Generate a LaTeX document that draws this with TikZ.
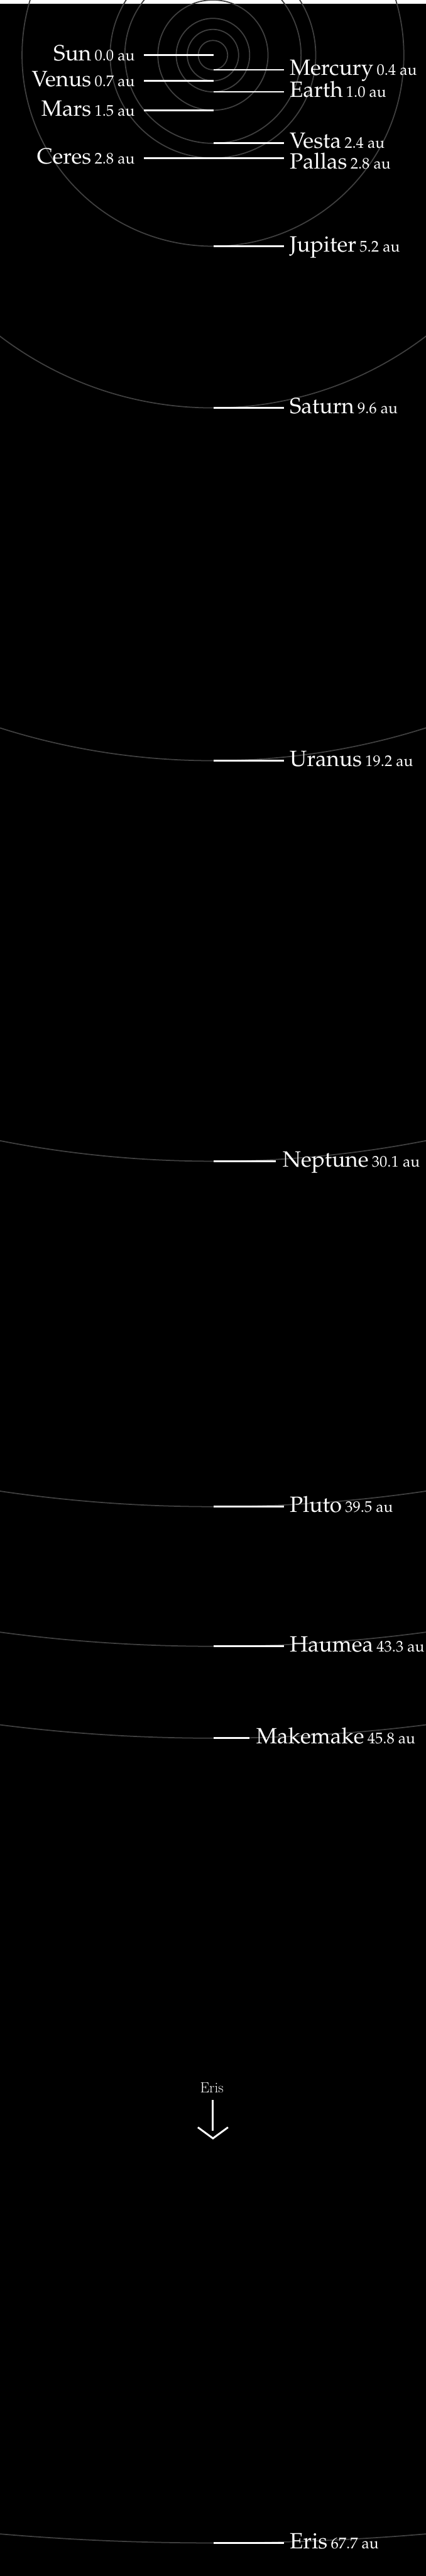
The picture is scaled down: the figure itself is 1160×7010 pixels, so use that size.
\documentclass[tikz,border=0pt]{standalone}
\usepackage[T1,TU]{fontenc}
\newcommand\palname{\fontencoding{T1}\fontfamily{ppl}\fontsize{60}{60}\selectfont}
\newcommand\palnum{\fontencoding{T1}\fontfamily{ppl}\fontsize{42}{42}\selectfont}
\definecolor{orbitgray}{HTML}{404040}
\tikzset{
  orbit/.style={draw=orbitgray, line width=3pt},
  tick/.style={draw=white, line width=4.8pt},
  lab/.style={text=white, inner sep=0pt, outer sep=0pt},
  arrowline/.style={draw=white, line width=5pt},
}
\begin{document}
\begin{tikzpicture}[x=1pt,y=-1pt]
\useasboundingbox (0,0) rectangle (1160,7010);
\fill[white] (0,0) rectangle (1160,10);
\fill[black] (0,10) rectangle (1160,7010);
\coordinate (sun) at (580,150);
\begin{scope}
  \clip (0,0) rectangle (1160,7010);
  \foreach \r in {40,70,100,150,240,280,520,960,1920,3010,3950,4330,4580,6770}
    \draw[orbit] (sun) circle[radius=\r pt];
\end{scope}
% left-hand labels
\foreach \id/\name/\num/\y in {sunb/Sun/0.0/150, venus/Venus/0.7/220, mars/Mars/1.5/300, ceres/Ceres/2.8/430}{
  \coordinate (\id-p) at (582,\y);
  \coordinate (\id-e) at (392,\y);
  \node[lab, anchor=base east] (\id-l) at (367,\y+15) {\palname \name\hspace{9pt}\palnum \num\ au};
  \draw[tick] (\id-p) -- (\id-e);
}
% right-hand labels
\foreach \id/\name/\num/\y/\xe/\xt/\yb in {
  mercury/Mercury/0.4/190/773/789/204,
  earth/Earth/1.0/250/773/789/265,
  vesta/Vesta/2.4/390/773/789/403,
  pallas/Pallas/2.8/430/773/789/460,
  jupiter/Jupiter/5.2/670/773/789/685,
  saturn/Saturn/9.6/1110/773/789/1126,
  uranus/Uranus/19.2/2070/773/789/2085,
  neptune/Neptune/30.1/3160/751/770/3175,
  pluto/Pluto/39.5/4100/773/789/4115,
  haumea/Haumea/43.3/4480/773/789/4495,
  makemake/Makemake/45.8/4730/680/698/4745,
  eris/Eris/67.7/6920/773/789/6935}{
  \coordinate (\id-p) at (582,\y);
  \coordinate (\id-e) at (\xe,\y);
  \node[lab, anchor=base west] (\id-l) at (\xt,\yb) {\palname \name\hspace{9pt}\palnum \num\ au};
  \draw[tick] (\id-p) -- (\id-e);
}
% Eris pointer
\node[lab, anchor=base] (erisnote) at (577,5694) {\fontsize{40}{40}\selectfont Eris};
\coordinate (shafttop) at (580,5714);
\coordinate (shaftbot) at (580,5798);
\coordinate (chevl) at (539,5789);
\coordinate (chevt) at (580,5819);
\coordinate (chevr) at (621,5789);
\draw[arrowline] (shafttop) -- (shaftbot);
\draw[arrowline] (chevl) -- (chevt) -- (chevr);
\end{tikzpicture}
\end{document}
